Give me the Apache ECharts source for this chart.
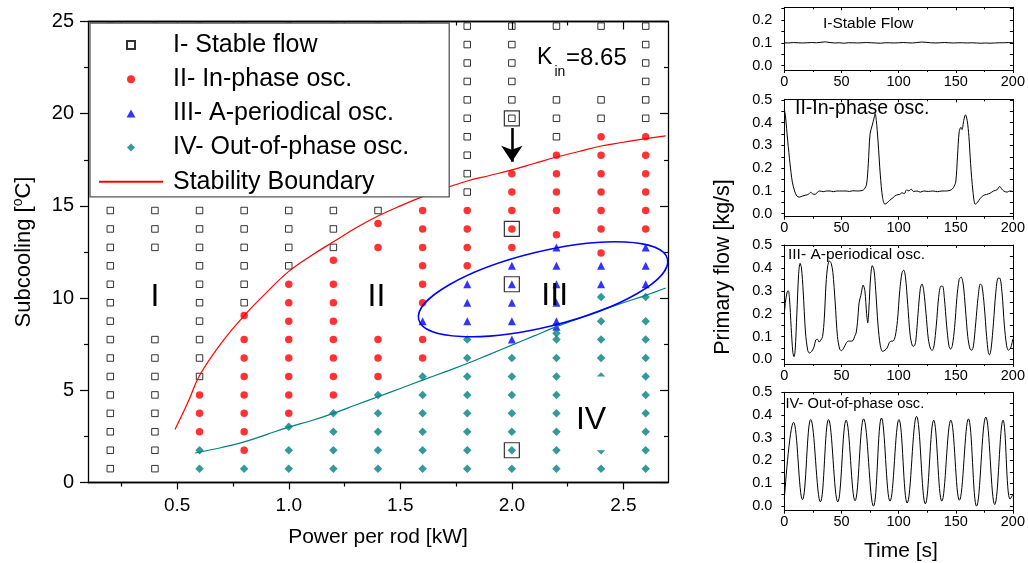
<!DOCTYPE html>
<html>
<head>
<meta charset="utf-8">
<script src="https://cdn.jsdelivr.net/npm/echarts@6.0.0/dist/echarts.min.js"></script>
<style>
html,body{margin:0;padding:0;background:#ffffff;}
#chart{width:1028px;height:563px;}
</style>
</head>
<body>
<div id="chart"></div>
<script>
// ================= DATA =================
// Stability map: columns of [power per rod (kW), [subcooling values (°C)]]
const stableColumns = [
  [0.2, [0.75,1.75,2.75,3.75,4.75,5.75,6.75,7.75,8.75,9.75,10.75,11.75,12.75,13.75,14.75,15.75,16.75,17.75,18.75,19.75,20.75,21.75,22.75,23.75,24.75]],
  [0.4, [0.75,1.75,2.75,3.75,4.75,5.75,6.75,7.75,12.75,13.75,14.75,15.75,16.75,17.75,18.75,19.75,20.75,21.75,22.75,23.75,24.75]],
  [0.6, [5.75,6.75,7.75,8.75,9.75,10.75,11.75,12.75,13.75,14.75,15.75,16.75,17.75,18.75,19.75,20.75,21.75,22.75,23.75,24.75]],
  [0.8, [9.75,10.75,11.75,12.75,13.75,14.75,15.75,16.75,17.75,18.75,19.75,20.75,21.75,22.75,23.75,24.75]],
  [1.0, [11.75,12.75,13.75,14.75,15.75,16.75,17.75,18.75,19.75,20.75,21.75,22.75,23.75,24.75]],
  [1.2, [12.75,13.75,14.75,15.75,16.75,17.75,18.75,19.75,20.75,21.75,22.75,23.75,24.75]],
  [1.4, [14.75,15.75,16.75,17.75,18.75,19.75,20.75,21.75,22.75,23.75,24.75]],
  [1.6, [15.75,16.75,17.75,18.75,19.75,20.75,21.75,22.75,23.75,24.75]],
  [1.8, [15.75,16.75,17.75,18.75,19.75,20.75,21.75,22.75,23.75,24.75]],
  [2.0, [19.75,20.75,21.75,22.75,23.75,24.75]],
  [2.2, [18.75,19.75,20.75,24.75]],
  [2.4, [19.75,20.75,24.75]],
  [2.6, [19.75,20.75,21.75,22.75,23.75,24.75]]
];
const inPhaseColumns = [
  [0.6, [2.75,3.75,4.75]],
  [0.8, [1.75,2.75,3.75,4.75,5.75,6.75,7.75,9.05]],
  [1.0, [3.75,4.75,5.75,6.75,7.75,8.75,9.75,10.75]],
  [1.2, [4.75,5.75,6.75,7.75,8.75,9.75,10.75,12.05]],
  [1.4, [5.75,6.75,7.75,12.75,14.04]],
  [1.6, [6.75,7.75,9.75,10.75,11.75,12.75,13.75,14.75]],
  [1.8, [11.75,12.75,13.75,14.75]],
  [2.0, [12.75,13.75,14.75,15.75,16.75]],
  [2.2, [13.44,14.75,15.75,16.75,17.75]],
  [2.4, [12.44,13.75,14.75,15.75,16.75,17.75,18.75]],
  [2.6, [13.75,14.75,15.75,16.75,17.75,18.75]]
];
const aPeriodicColumns = [
  [1.6, [8.75]],
  [1.8, [8.75,9.75,10.75]],
  [2.0, [7.75,8.75,9.75,10.75,11.75]],
  [2.2, [8.45,8.75,9.75,10.75,11.75,12.75]],
  [2.4, [10.75,11.75]],
  [2.6, [10.75,11.75,12.75]]
];
const outOfPhaseColumns = [
  [0.6, [0.75,1.75]],
  [0.8, [0.75]],
  [1.0, [0.75,1.75,3.03]],
  [1.2, [0.75,1.75,2.75,3.75]],
  [1.4, [0.75,1.75,2.75,3.75,4.75]],
  [1.6, [0.75,1.75,2.75,3.75,4.75,5.75]],
  [1.8, [0.75,1.75,2.75,3.75,4.75,5.75,6.75,7.75]],
  [2.0, [0.75,1.75,2.75,3.75,4.75,5.75,6.75]],
  [2.2, [0.75,1.75,2.75,3.75,4.75,5.75,6.75,7.75,8.1]],
  [2.4, [0.75,1.75,5.75,6.75,7.75,8.75,10.06]],
  [2.6, [0.75,1.75,2.75,3.75,4.75,5.75,6.75,7.75,8.75,10.06]]
];
const highlightedCases = [[2.0,19.75],[2.0,13.75],[2.0,10.75],[2.0,1.75]];
const arrowCoords = [[2.0,19.22],[2.0,17.4]];
const stabilityBoundary = [[0.49,2.87],[0.55,4.4],[0.6,5.8],[0.7,7.6],[0.8,9.05],[0.9,10.3],[1.0,11.45],[1.1,12.3],[1.2,13.05],[1.3,13.8],[1.4,14.45],[1.5,15.0],[1.6,15.5],[1.7,15.95],[1.8,16.35],[1.9,16.65],[2.0,16.95],[2.1,17.3],[2.2,17.65],[2.3,17.95],[2.4,18.25],[2.5,18.45],[2.6,18.65],[2.69,18.8]];
const outOfPhaseBoundary = [[0.58,1.6],[0.7,1.9],[0.8,2.2],[0.9,2.6],[1.0,3.0],[1.1,3.35],[1.2,3.75],[1.3,4.2],[1.4,4.65],[1.5,5.1],[1.6,5.55],[1.7,6.0],[1.8,6.45],[1.9,6.95],[2.0,7.45],[2.1,7.95],[2.2,8.45],[2.3,8.9],[2.4,9.35],[2.5,9.75],[2.6,10.15],[2.69,10.55]];
const aPeriodicRegionCenter = [2.14, 10.48];
const ivLabelMask = [[2.27,5.75],[2.5,1.75]];

const xMajorTicks = [0.5,1.0,1.5,2.0,2.5];
const xMinorTicks = [0.25,0.75,1.25,1.75,2.25];

// Time traces: [time (s), primary flow (kg/s)]
const stableFlowTrace = [[0,0.100],[4,0.099],[8,0.101],[12,0.100],[16,0.099],[20,0.100],[24,0.101],[28,0.100],[32,0.102],[36,0.104],[40,0.101],[44,0.099],[48,0.100],[52,0.098],[56,0.100],[60,0.100],[64,0.099],[68,0.100],[72,0.101],[76,0.100],[80,0.099],[84,0.098],[88,0.100],[92,0.100],[96,0.099],[100,0.100],[104,0.101],[108,0.100],[112,0.099],[116,0.101],[120,0.103],[124,0.102],[128,0.100],[132,0.099],[136,0.100],[140,0.101],[144,0.100],[148,0.099],[152,0.100],[156,0.100],[160,0.099],[164,0.100],[168,0.099],[172,0.098],[176,0.099],[180,0.098],[184,0.099],[188,0.100],[192,0.100],[196,0.101],[200,0.100]];
const inPhaseTrace = [[0,0.46],[1,0.43],[3,0.32],[5,0.22],[7,0.14],[9,0.1],[11,0.078],[13,0.073],[16,0.078],[19,0.082],[21,0.085],[23,0.094],[25,0.087],[27,0.085],[29,0.095],[31,0.1],[34,0.097],[37,0.1],[40,0.1],[43,0.097],[46,0.1],[50,0.1],[54,0.1],[57,0.098],[60,0.101],[64,0.1],[68,0.102],[70,0.108],[72,0.13],[73.5,0.22],[75,0.35],[77,0.39],[78.5,0.42],[79.5,0.44],[80.5,0.41],[82,0.32],[84,0.17],[86,0.07],[88,0.042],[90,0.048],[92,0.058],[95,0.07],[98,0.082],[101,0.085],[103,0.092],[105,0.088],[107,0.105],[109,0.1],[111,0.108],[113,0.098],[116,0.1],[119,0.095],[122,0.1],[126,0.098],[130,0.1],[134,0.097],[138,0.1],[142,0.1],[146,0.105],[148,0.115],[150,0.14],[151.5,0.25],[153,0.36],[154.5,0.38],[155.5,0.37],[157,0.41],[158.5,0.435],[160,0.41],[161.5,0.34],[163,0.22],[165,0.1],[167,0.042],[169,0.05],[171,0.065],[174,0.08],[177,0.085],[180,0.09],[183,0.1],[186,0.105],[188.5,0.12],[190,0.11],[192,0.1],[195,0.095],[197,0.1],[200,0.098]];
const aPeriodicTrace = [[0,0.2],[1,0.25],[2.5,0.295],[3.5,0.3],[4.5,0.27],[6,0.14],[7.5,0.03],[8.5,0.012],[9.5,0.04],[11,0.2],[12.5,0.37],[13.8,0.42],[15,0.4],[16.5,0.3],[18.5,0.12],[20.5,0.04],[22,0.028],[24,0.035],[26,0.055],[27.5,0.085],[29,0.088],[30.5,0.076],[32,0.085],[33.5,0.1],[35,0.18],[36.5,0.33],[38,0.41],[39.5,0.43],[41,0.42],[42.5,0.38],[44.5,0.25],[46.5,0.1],[48.5,0.045],[50,0.038],[52,0.05],[54,0.07],[56,0.08],[58,0.08],[60,0.082],[61.5,0.1],[62.8,0.115],[64,0.16],[65.5,0.25],[67,0.28],[69,0.325],[70.5,0.3],[72,0.2],[73,0.16],[74,0.22],[75.5,0.36],[77,0.41],[78.5,0.39],[80,0.3],[82,0.15],[84,0.06],[86,0.035],[88,0.04],[90,0.05],[92,0.075],[93.5,0.08],[95,0.08],[97,0.1],[99,0.17],[101,0.3],[103,0.38],[104.5,0.39],[106,0.36],[108,0.24],[110,0.11],[112,0.06],[113.5,0.058],[115,0.08],[117,0.2],[119,0.31],[120.5,0.33],[122,0.3],[124,0.2],[126,0.09],[128,0.045],[129.5,0.04],[131,0.06],[133,0.15],[135,0.27],[137,0.32],[138.5,0.32],[140,0.27],[142,0.15],[144,0.06],[145.5,0.045],[147,0.06],[149,0.14],[151,0.27],[153,0.35],[154.7,0.36],[156.5,0.33],[158.5,0.22],[160.5,0.1],[162.5,0.045],[164,0.04],[165.5,0.06],[167.5,0.16],[169.5,0.27],[171.5,0.33],[173,0.32],[175,0.23],[177,0.1],[178.5,0.03],[179.5,0.02],[181,0.05],[183,0.16],[185,0.29],[187,0.355],[188.5,0.355],[190.5,0.29],[192.5,0.15],[194.5,0.06],[196,0.04],[198,0.05],[200,0.09]];
const outOfPhaseTrace = [[0,0.03],[8.1,0.368],[15.9,0.028],[23.1,0.38],[31.6,0.018],[38.7,0.38],[46.8,0.018],[54.1,0.377],[61.9,0.023],[69.4,0.383],[78,-0.001],[85,0.387],[92.5,0.021],[100.3,0.38],[107.5,0.013],[115.7,0.394],[123.4,0.009],[130.7,0.377],[137.8,0.021],[145.7,0.377],[153.2,0.025],[161.1,0.383],[168.2,-0.001],[176.3,0.391],[184.1,0.006],[191.4,0.377],[197.5,0.03],[200,0.05]];

const timeTicks = [0,50,100,150,200];
const flowLabelsSmall = [0,0.1,0.2];
const flowTicksSmall = [0,0.05,0.1,0.15,0.2,0.25];
const flowLabels = [0,0.1,0.2,0.3,0.4,0.5];
const flowTicks = [0,0.05,0.1,0.15,0.2,0.25,0.3,0.35,0.4,0.45,0.5];

// ================= CHART =================
const FONT = '"Liberation Sans", Arial, Helvetica, sans-serif';
const toPoints = cols => cols.flatMap(([x, ys]) => ys.map(y => [x, y]));

const grids = [
  {left: 88, top: 21.5, width: 580, height: 461},
  {left: 784.3, top: 7.3, width: 230.7, height: 62.7},
  {left: 784.3, top: 99.3, width: 230.7, height: 117.4},
  {left: 784.3, top: 245, width: 230.7, height: 119},
  {left: 784.3, top: 392.3, width: 230.7, height: 118.4}
];
const lineBlack = {color: '#000', width: 1.3};

function mainX(pos, ticks, len, withLabels) {
  return {
    type: 'value', gridIndex: 0, position: pos, min: 0.1, max: 2.7,
    axisLine: {show: true, onZero: false, lineStyle: lineBlack},
    axisTick: {show: true, inside: pos === 'top', length: len, customValues: ticks, lineStyle: {color: '#000', width: 1.2}},
    axisLabel: withLabels ? {show: true, customValues: xMajorTicks, formatter: v => v.toFixed(1), margin: 14, fontSize: 19, color: '#000', fontFamily: FONT} : {show: false},
    splitLine: {show: false}
  };
}
function mainY(pos) {
  return {
    type: 'value', gridIndex: 0, position: pos, min: 0, max: 25, interval: 5,
    axisLine: {show: true, onZero: false, lineStyle: lineBlack},
    axisTick: {show: true, inside: pos === 'right', length: 8, lineStyle: {color: '#000', width: 1.2}},
    minorTick: {show: true, splitNumber: 2, length: 4, lineStyle: {color: '#000', width: 1.2}},
    axisLabel: pos === 'left' ? {show: true, margin: 14, fontSize: 20, color: '#000', fontFamily: FONT} : {show: false},
    splitLine: {show: false}, minorSplitLine: {show: false},
    name: pos === 'left' ? '{a|Subcooling [}{s|o}{a|C]}' : '',
    nameLocation: 'middle', nameGap: 52,
    nameTextStyle: {rich: {a: {fontSize: 22, fontFamily: FONT, color: '#000', lineHeight: 25}, s: {fontSize: 14, fontFamily: FONT, color: '#000', lineHeight: 14, verticalAlign: 'top'}}}
  };
}
function panelX(gi, pos) {
  return {
    type: 'value', gridIndex: gi, position: pos, min: 0, max: 200, interval: 50,
    axisLine: {show: true, onZero: false, lineStyle: {color: '#000', width: 1}},
    axisTick: {show: true, inside: pos === 'top', length: 3, lineStyle: {color: '#000', width: 1}},
    minorTick: {show: true, splitNumber: 2, length: 2, lineStyle: {color: '#000', width: 1}},
    axisLabel: pos === 'bottom' ? {show: true, margin: 4, fontSize: 14.5, color: '#000', fontFamily: FONT} : {show: false},
    splitLine: {show: false}, minorSplitLine: {show: false}
  };
}
function panelY(gi, pos, min, max, labels, ticks) {
  return {
    type: 'value', gridIndex: gi, position: pos, min: min, max: max,
    axisLine: {show: true, onZero: false, lineStyle: {color: '#000', width: 1}},
    axisTick: {show: true, inside: pos === 'right', length: 3, customValues: ticks, lineStyle: {color: '#000', width: 1}},
    axisLabel: pos === 'left' ? {show: true, customValues: labels, formatter: v => v.toFixed(1), margin: 12, fontSize: 14.5, color: '#000', fontFamily: FONT} : {show: false},
    splitLine: {show: false}
  };
}

const panelRanges = [
  [-0.019, 0.255, flowLabelsSmall, flowTicksSmall],
  [-0.013, 0.503, flowLabels, flowTicks],
  [-0.02, 0.5, flowLabels, flowTicks],
  [-0.021, 0.5, flowLabels, flowTicks]
];

const xAxes = [
  Object.assign(mainX('bottom', xMajorTicks, 7, true), {name: 'Power per rod [kW]', nameLocation: 'middle', nameGap: 44, nameTextStyle: {fontSize: 21, color: '#000', fontFamily: FONT}}),
  mainX('bottom', xMinorTicks, 4, false),
  mainX('top', xMajorTicks, 8, false),
  mainX('top', xMinorTicks, 4, false)
];
const yAxes = [mainY('left'), mainY('right')];
for (let p = 1; p <= 4; p++) {
  xAxes.push(panelX(p, 'bottom'), panelX(p, 'top'));
  const r = panelRanges[p - 1];
  yAxes.push(panelY(p, 'left', r[0], r[1], r[2], r[3]), panelY(p, 'right', r[0], r[1], r[2], r[3]));
}

const traces = [stableFlowTrace, inPhaseTrace, aPeriodicTrace, outOfPhaseTrace];
const traceSmooth = [false, 0.3, 0.3, 0.42];
const traceSeries = traces.map((d, i) => ({
  type: 'line', xAxisIndex: 4 + 2 * i, yAxisIndex: 2 + 2 * i, data: d,
  showSymbol: false, symbol: 'none', smooth: traceSmooth[i],
  lineStyle: {color: '#000', width: 1}, silent: true, z: 3
}));

const option = {
  animation: false,
  backgroundColor: '#fff',
  textStyle: {fontFamily: FONT},
  grid: grids,
  xAxis: xAxes,
  yAxis: yAxes,
  legend: {
    orient: 'vertical', left: 90, top: 23,
    padding: [9, 40, 2, 8],
    itemWidth: 64, itemHeight: 8, itemGap: 8.2,
    backgroundColor: '#fff', borderColor: '#555', borderWidth: 1.3,
    textStyle: {fontSize: 25, lineHeight: 26, color: '#000', fontFamily: FONT, padding: [0, 0, 0, 5]},
    selectedMode: false, z: 10,
    data: [
      {name: 'I- Stable flow', icon: 'path://M0,0L10,0L10,10L0,10Z'},
      {name: 'II- In-phase osc.', icon: 'circle'},
      {name: 'III- A-periodical osc.', icon: 'path://M5,0L10,9L0,9Z'},
      {name: 'IV- Out-of-phase osc.', icon: 'path://M5,0L10,5L5,10L0,5Z'},
      {name: 'Stability Boundary', itemStyle: {opacity: 0, color: 'rgba(0,0,0,0)', borderWidth: 0}}
    ]
  },
  series: [
    {name: 'I- Stable flow', type: 'scatter', xAxisIndex: 0, yAxisIndex: 0, data: toPoints(stableColumns), symbol: 'rect', symbolSize: 6.5, itemStyle: {color: 'rgba(0,0,0,0)', borderColor: '#000', borderWidth: 1}, silent: true, z: 2},
    {name: 'II- In-phase osc.', type: 'scatter', xAxisIndex: 0, yAxisIndex: 0, data: toPoints(inPhaseColumns), symbol: 'circle', symbolSize: 7.5, itemStyle: {color: '#ff0000'}, silent: true, z: 2},
    {name: 'III- A-periodical osc.', type: 'scatter', xAxisIndex: 0, yAxisIndex: 0, data: toPoints(aPeriodicColumns), symbol: 'triangle', symbolSize: 8, itemStyle: {color: '#0000ff'}, silent: true, z: 2},
    {name: 'IV- Out-of-phase osc.', type: 'scatter', xAxisIndex: 0, yAxisIndex: 0, data: toPoints(outOfPhaseColumns), symbol: 'diamond', symbolSize: 8.5, itemStyle: {color: '#008080'}, silent: true, z: 2},
    {name: 'Stability Boundary', type: 'line', xAxisIndex: 0, yAxisIndex: 0, data: stabilityBoundary, symbol: 'none', showSymbol: false, smooth: 0.4, lineStyle: {color: '#ff0000', width: 1.2}, itemStyle: {color: '#ff0000'}, silent: true, z: 3},
    {name: 'Out-of-phase boundary', type: 'line', xAxisIndex: 0, yAxisIndex: 0, data: outOfPhaseBoundary, symbol: 'none', showSymbol: false, smooth: 0.4, lineStyle: {color: '#008080', width: 1.2}, itemStyle: {color: '#008080'}, silent: true, z: 3},
    {name: 'Highlighted', type: 'scatter', xAxisIndex: 0, yAxisIndex: 0, data: highlightedCases, symbol: 'rect', symbolSize: 15, itemStyle: {color: 'rgba(0,0,0,0)', borderColor: '#000', borderWidth: 1.2}, silent: true, z: 4},
    {name: 'Arrow', type: 'lines', coordinateSystem: 'cartesian2d', xAxisIndex: 0, yAxisIndex: 0, polyline: false,
     data: [{coords: arrowCoords}], symbol: ['none', 'arrow'], symbolSize: 16,
     lineStyle: {color: '#000', width: 2.6, opacity: 1, curveness: 0}, itemStyle: {color: '#000'}, silent: true, z: 5},
    ...traceSeries
  ]
};

const chart = echarts.init(document.getElementById('chart'), null, {renderer: 'canvas'});
chart.setOption(option);

const finder = {xAxisIndex: 0, yAxisIndex: 0};
const ec = chart.convertToPixel(finder, aPeriodicRegionCenter);
const m1 = chart.convertToPixel(finder, ivLabelMask[0]);
const m2 = chart.convertToPixel(finder, ivLabelMask[1]);

function txt(text, x, y, size, align, extra) {
  return Object.assign({type: 'text', x: x, y: y, z: 20,
    style: {text: text, fontSize: size, fontFamily: FONT, fill: '#000', textAlign: align || 'left', textVerticalAlign: 'middle'}}, extra || {});
}

chart.setOption({
  graphic: [
    {type: 'ellipse', x: ec[0], y: ec[1], rotation: 13.75 * Math.PI / 180,
     shape: {cx: 0, cy: 0, rx: 128, ry: 37.5}, style: {fill: 'none', stroke: '#0000ff', lineWidth: 1.5}, z: 6, silent: true},
    {type: 'rect', shape: {x: m1[0], y: m1[1], width: m2[0] - m1[0], height: m2[1] - m1[1]}, style: {fill: '#fff'}, z: 15, silent: true},
    txt('I', 155, 297, 32, 'center'),
    txt('II', 376.5, 297, 32, 'center'),
    txt('III', 554.7, 296, 32, 'center'),
    txt('IV', 591, 420, 32, 'center'),
    txt('K', 537, 58, 23, 'left'),
    txt('in', 554.5, 72, 14, 'left'),
    txt('=8.65', 566, 58, 24, 'left'),
    txt('I-Stable Flow', 823, 24, 15.5, 'left'),
    txt('II-In-phase osc.', 795, 108.5, 19.5, 'left'),
    txt('III- A-periodical osc.', 788, 255, 15.5, 'left'),
    txt('IV- Out-of-phase osc.', 785.5, 404, 14.7, 'left'),
    txt('Time [s]', 901, 551, 21, 'center'),
    txt('Primary flow [kg/s]', 723, 267, 21.5, 'center', {rotation: Math.PI / 2})
  ]
});
</script>
</body>
</html>
